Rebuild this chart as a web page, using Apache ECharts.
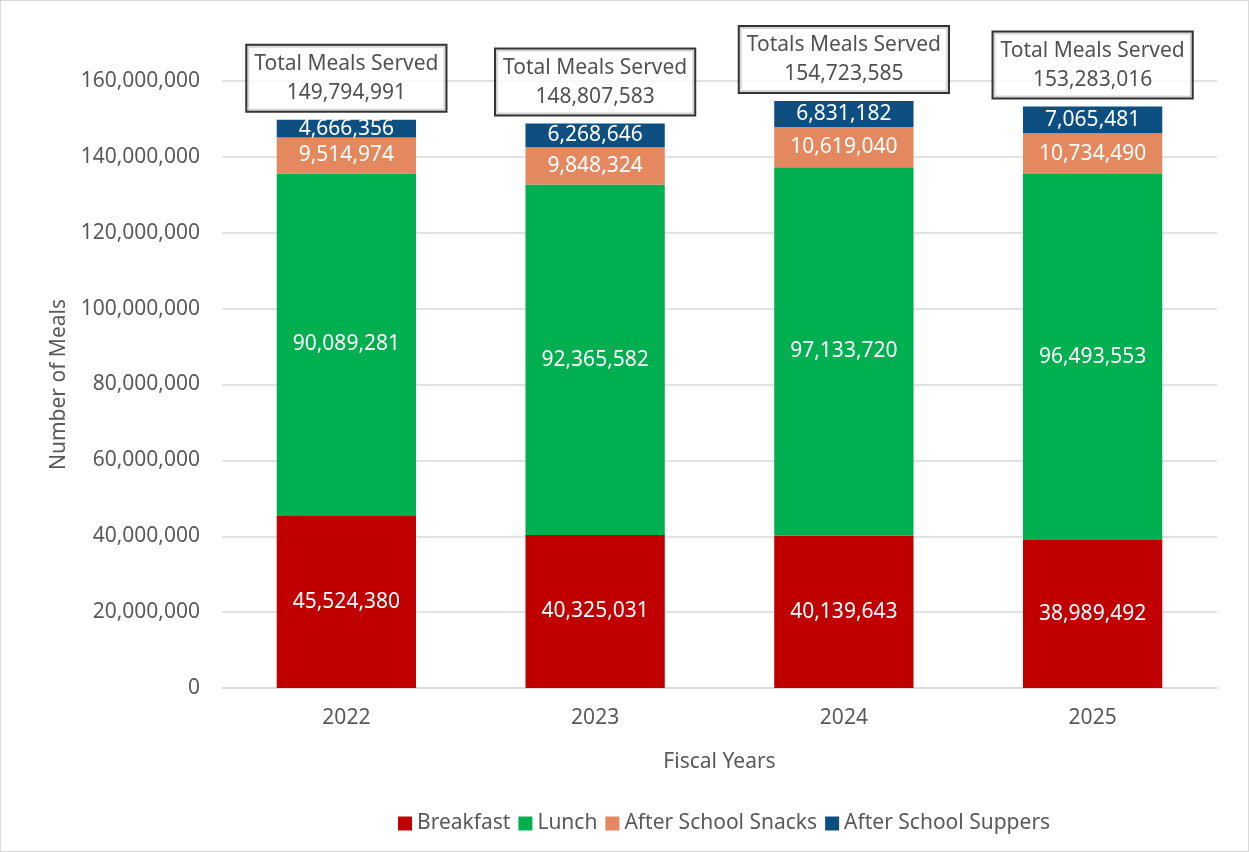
<!DOCTYPE html>
<html>
<head>
<meta charset="utf-8">
<script src="https://cdn.jsdelivr.net/npm/echarts@6/dist/echarts.min.js"></script>
<style>
html,body{margin:0;padding:0;background:#fff;}
#wrap{width:1249px;height:852px;box-sizing:border-box;border:1px solid #d9d9d9;}
#chart{width:1247px;height:850px;}
</style>
</head>
<body>
<div id="wrap"><div id="chart"></div></div>
<script>
const categories = ['2022', '2023', '2024', '2025'];
const breakfast = [45524380, 40325031, 40139643, 38989492];
const lunch = [90089281, 92365582, 97133720, 96493553];
const snacks = [9514974, 9848324, 10619040, 10734490];
const suppers = [4666356, 6268646, 6831182, 7065481];
const totals = [149794991, 148807583, 154723585, 153283016];
const totalTitles = ['Total Meals Served', 'Total Meals Served', 'Totals Meals Served', 'Total Meals Served'];
const seriesNames = ['Breakfast', 'Lunch', 'After School Snacks', 'After School Suppers'];
const colors = ['#C00000', '#00B050', '#E4895F', '#0D4F80'];

const FONT = '"Noto Sans", sans-serif';
const TXT = '#595959';
const fmt = v => Number(v).toLocaleString('en-US');

function barSeries(name, data, color) {
  return {
    name: name, type: 'bar', stack: 'total', data: data, barWidth: '56%',
    itemStyle: { color: color },
    label: { show: true, position: 'inside', color: '#fff', fontFamily: FONT, fontSize: 21,
      formatter: p => fmt(p.value) },
    emphasis: { disabled: true }
  };
}

const chart = echarts.init(document.getElementById('chart'));
chart.setOption({
  animation: false,
  textStyle: { fontFamily: FONT },
  grid: { left: 221, right: 31, top: 80, bottom: 163 },
  legend: {
    data: seriesNames, bottom: 12, left: 392, icon: 'rect', itemWidth: 14, itemHeight: 14, itemGap: 8,
    textStyle: { color: TXT, fontSize: 21, fontFamily: FONT }
  },
  xAxis: {
    type: 'category', data: categories,
    name: 'Fiscal Years', nameLocation: 'middle', nameGap: 64,
    nameTextStyle: { color: TXT, fontSize: 21, fontFamily: FONT },
    axisLine: { lineStyle: { color: '#d9d9d9', width: 1.5 } },
    axisTick: { show: false },
    axisLabel: { color: TXT, fontSize: 21, margin: 20, fontFamily: FONT }
  },
  yAxis: {
    type: 'value', min: 0, max: 160000000, interval: 20000000,
    name: 'Number of Meals', nameLocation: 'middle', nameGap: 152,
    nameTextStyle: { color: TXT, fontSize: 21, fontFamily: FONT },
    axisLine: { show: false }, axisTick: { show: false },
    axisLabel: { color: TXT, fontSize: 21, margin: 22, fontFamily: FONT, formatter: v => fmt(v) },
    splitLine: { lineStyle: { color: '#d9d9d9', width: 1.5 } }
  },
  series: [
    barSeries(seriesNames[0], breakfast, colors[0]),
    barSeries(seriesNames[1], lunch, colors[1]),
    barSeries(seriesNames[2], snacks, colors[2]),
    barSeries(seriesNames[3], suppers, colors[3]),
    {
      name: 'Totals', type: 'scatter', data: totals, symbolSize: 0.01, silent: true,
      label: {
        show: true, position: 'top', distance: 9,
        formatter: p => totalTitles[p.dataIndex] + '\n' + fmt(p.value),
        color: '#262626', fontFamily: FONT, fontSize: 21, lineHeight: 29, align: 'center',
        backgroundColor: '#fff', borderColor: '#000', borderWidth: 2, padding: [4, 7, 3, 7]
      },
      emphasis: { disabled: true }, z: 10
    }
  ]
});
</script>
</body>
</html>
